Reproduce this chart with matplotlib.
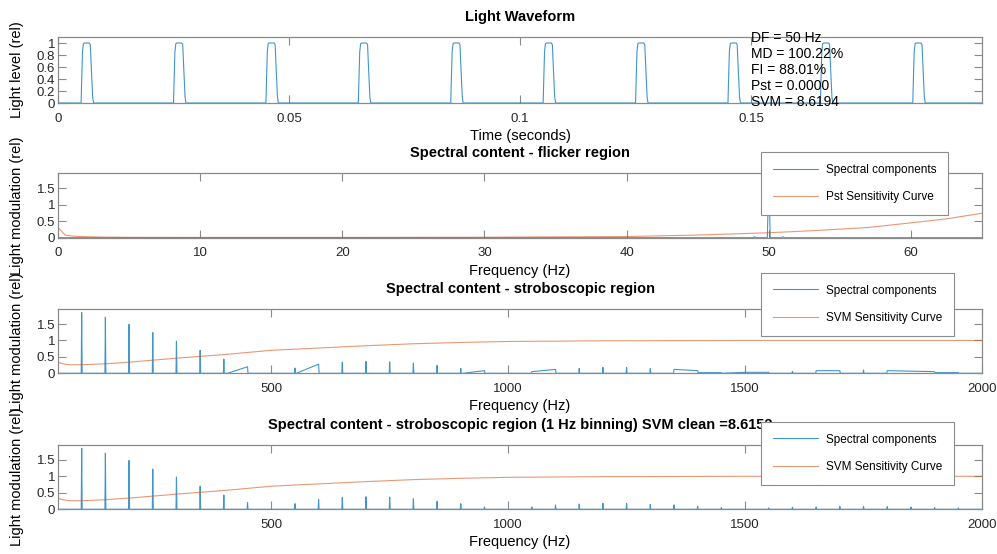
import numpy as np
import matplotlib.pyplot as plt
from matplotlib.ticker import FuncFormatter

plt.rcParams["font.family"] = ["Liberation Sans", "DejaVu Sans"]
plt.rcParams["font.size"] = 9.5

BLUE = "#0072BD"
ORANGE = "#D95319"
GREY = "#8a8a8a"
W, H = 997, 554

# light waveform: one pulse shape repeated every 20 ms
pulse_starts = [0.005, 0.025, 0.045, 0.065, 0.085, 0.105, 0.125, 0.145, 0.165, 0.185]
pulse_dt = [0.0, 0.0001, 0.0003, 0.0005, 0.0007, 0.0018, 0.0020, 0.0022, 0.0025, 0.0027]
pulse_level = [0.0, 0.3, 0.85, 0.99, 1.0, 1.0, 0.97, 0.6, 0.1, 0.0]
t_end = 0.19998
stats = ["DF = 50 Hz", "MD = 100.22%", "FI = 88.01%", "Pst = 0.0000", "SVM = 8.6194"]

# flicker region spectrum + Pst curve
flicker_f = [0, 48.9, 49, 49.1, 49.9, 50, 50.1, 50.9, 51, 51.1, 65]
flicker_a = [0, 0, 0.03, 0, 0, 1.95, 0, 0, 0.03, 0, 0]
pst_f = [0, 0.5, 1, 1.5, 2, 3, 5, 10, 20, 30, 40, 45, 50, 53, 57, 60, 62.5, 65]
pst_a = [0.31, 0.08, 0.05, 0.035, 0.03, 0.02, 0.012, 0.008, 0.008, 0.015, 0.035,
         0.08, 0.15, 0.21, 0.31, 0.45, 0.57, 0.74]

# stroboscopic region spectrum (as plotted, with its ramps)
strobe_f = [50, 51, 99, 100, 101, 149, 150, 151, 199, 200, 201, 249, 250, 251,
            299, 300, 301, 349, 350, 351, 399, 400, 401, 408, 450, 451, 549, 550,
            551, 553, 600, 601, 649, 650, 651, 699, 700, 701, 749, 750, 751, 799,
            800, 801, 849, 850, 851, 899, 900, 901, 905, 950, 951, 1049, 1050,
            1100, 1101, 1149, 1150, 1151, 1199, 1200, 1201, 1249, 1250, 1251,
            1299, 1300, 1301, 1349, 1350, 1400, 1401, 1450, 1451, 1500, 1550,
            1551, 1599, 1600, 1601, 1649, 1650, 1700, 1701, 1749, 1750, 1751,
            1799, 1800, 1900, 1901, 1950, 1951, 2000]
strobe_a = [1.95, 0, 0, 1.85, 0, 0, 1.71, 0, 0, 1.49, 0, 0, 1.24, 0,
            0, 0.98, 0, 0, 0.70, 0, 0, 0.43, 0, 0, 0.20, 0, 0, 0.16,
            0, 0, 0.28, 0, 0, 0.34, 0, 0, 0.36, 0, 0, 0.35, 0, 0,
            0.31, 0, 0, 0.24, 0, 0, 0.15, 0, 0, 0.08, 0, 0, 0.05,
            0.12, 0, 0, 0.15, 0, 0, 0.18, 0, 0, 0.18, 0,
            0, 0.14, 0, 0, 0.12, 0.08, 0.02, 0.02, 0, 0.03, 0.03,
            0, 0, 0.06, 0, 0, 0.08, 0.08, 0, 0, 0.10, 0,
            0, 0.08, 0.05, 0.02, 0.02, 0, 0]

# 1 Hz binned harmonics
harm_f = list(range(50, 2000, 50))
harm_a = [1.95, 1.85, 1.70, 1.48, 1.22, 0.98, 0.70, 0.43, 0.20, 0.0,
          0.17, 0.29, 0.36, 0.38, 0.37, 0.32, 0.24, 0.17, 0.07, 0.0,
          0.07, 0.13, 0.16, 0.18, 0.18, 0.15, 0.13, 0.09, 0.05, 0.0,
          0.04, 0.06, 0.07, 0.09, 0.09, 0.08, 0.07, 0.05, 0.04]

svm_f = [50, 60, 75, 100, 150, 200, 250, 300, 400, 500, 600, 700, 800, 900,
         1000, 1200, 1500, 2000]
svm_a = [0.34, 0.29, 0.26, 0.26, 0.29, 0.34, 0.40, 0.46, 0.57, 0.70, 0.77,
         0.84, 0.90, 0.94, 0.97, 0.99, 1.0, 1.0]

# build polylines
t = [0.0]
y = [0.0]
for s in pulse_starts:
    t += [s + d for d in pulse_dt]
    y += pulse_level
t.append(t_end)
y.append(0.0)

bin_f = [harm_f[0], harm_f[0] + 1]
bin_a = [harm_a[0], 0]
for f, a in zip(harm_f[1:], harm_a[1:]):
    bin_f += [f - 1, f, f + 1]
    bin_a += [0, a, 0]
bin_f.append(2000)
bin_a.append(0)


def style(ax):
    for s in ax.spines.values():
        s.set_color(GREY)
        s.set_linewidth(0.9)
    ax.tick_params(direction="in", top=True, right=True, length=5.5, width=0.8,
                   color=GREY, labelcolor="#262626", labelsize=9.5)
    ax.tick_params(axis="x", pad=7)
    ax.tick_params(axis="y", pad=2)
    ax.xaxis.set_major_formatter(FuncFormatter(lambda v, p: f"{v:g}"))
    ax.yaxis.set_major_formatter(FuncFormatter(lambda v, p: f"{v:g}"))
    ax.yaxis.set_label_coords(-0.037, 0.5)


def legend(ax, labels, top_px):
    leg = ax.legend(labels, loc="upper left", bbox_to_anchor=(761 / W, 1 - top_px / H),
                    bbox_transform=fig.transFigure, borderaxespad=0, fontsize=8.5,
                    fancybox=False, framealpha=1, edgecolor="#8c8c8c",
                    handlelength=3.8, handletextpad=0.7, borderpad=1.0, labelspacing=1.3)
    leg.get_frame().set_linewidth(0.8)
    leg.set_zorder(10)


fig = plt.figure(figsize=(W / 100, H / 100), dpi=100)
left, width = 58 / W, 924 / W
rows = [(37, 103), (173.3, 237.7), (309.3, 373.3), (445, 509.3)]
axes = [fig.add_axes([left, 1 - b / H, width, (b - t0) / H]) for t0, b in rows]
ax1, ax2, ax3, ax4 = axes

line_kw = dict(lw=0.8, alpha=0.75)
curve_kw = dict(lw=0.8, alpha=0.6)

ax1.plot(t, y, color=BLUE, **line_kw)
ax1.set_xlim(0, t_end)
ax1.set_ylim(0, 1.1)
ax1.set_xticks([0, 0.05, 0.1, 0.15])
ax1.set_yticks([0, 0.2, 0.4, 0.6, 0.8, 1])
ax1.set_title("Light Waveform", fontweight="bold", fontsize=10.5, pad=11.5)
ax1.set_xlabel("Time (seconds)", fontsize=10.5, labelpad=3)
ax1.set_ylabel("Light level (rel)", fontsize=10.5)
ax1.text(0.15, 0.55, "\n".join(stats), fontsize=10, va="center", ha="left",
         linespacing=1.19)

ax2.plot(flicker_f, flicker_a, color=BLUE, **line_kw)
ax2.plot(pst_f, pst_a, color=ORANGE, **curve_kw)
ax2.set_xlim(0, 65)
ax2.set_ylim(0, 1.95)
ax2.set_yticks([0, 0.5, 1, 1.5])
ax2.set_title("Spectral content - flicker region", fontweight="bold", fontsize=10.5, pad=11.5)
legend(ax2, ["Spectral components", "Pst Sensitivity Curve"], 152)

ax3.plot(strobe_f, strobe_a, color=BLUE, **line_kw)
ax3.plot(svm_f, svm_a, color=ORANGE, **curve_kw)
ax3.set_title("Spectral content - stroboscopic region", fontweight="bold", fontsize=10.5, pad=11.5)
legend(ax3, ["Spectral components", "SVM Sensitivity Curve"], 272.7)

ax4.plot(bin_f, bin_a, color=BLUE, **line_kw)
ax4.plot(svm_f, svm_a, color=ORANGE, **curve_kw)
ax4.set_title("Spectral content - stroboscopic region (1 Hz binning) SVM clean =8.6152",
              fontweight="bold", fontsize=10.5, pad=11.5)
legend(ax4, ["Spectral components", "SVM Sensitivity Curve"], 421.7)

for ax in (ax3, ax4):
    ax.set_xlim(50, 2000)
    ax.set_ylim(0, 1.95)
    ax.set_xticks([500, 1000, 1500, 2000])
    ax.set_yticks([0, 0.5, 1, 1.5])

for ax in (ax2, ax3, ax4):
    ax.set_xlabel("Frequency (Hz)", fontsize=10.5, labelpad=3)
    ax.set_ylabel("Light modulation (rel)", fontsize=10.5)

for ax in axes:
    style(ax)

fig.savefig("out.png", dpi=100, facecolor="white")
